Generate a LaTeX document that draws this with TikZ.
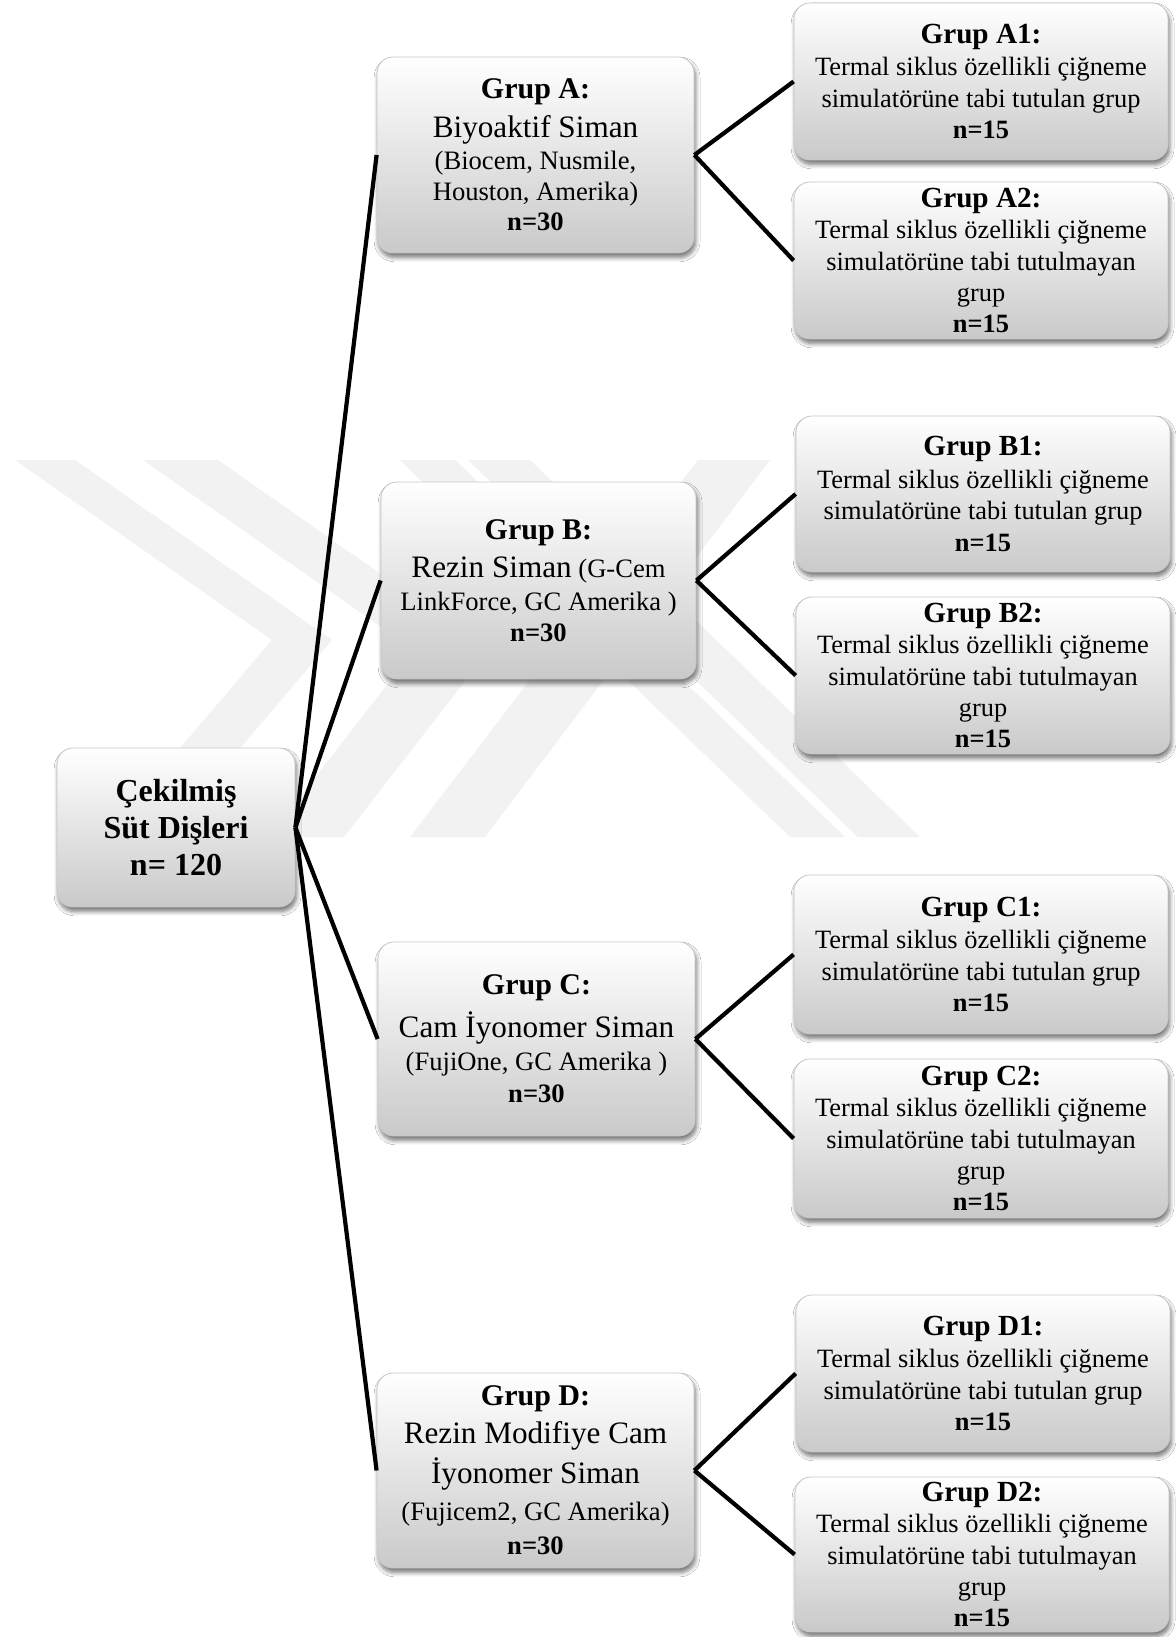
\documentclass[tikz,border=0pt]{standalone}
\usepackage{fontspec}
\setmainfont{Liberation Serif}
\usetikzlibrary{shadows,shadows.blur}
\tikzset{
  box/.style 2 args={draw=black!22, line width=0.4pt, rounded corners=8pt,
    top color=white, bottom color=black!21,
    blur shadow={shadow xshift=0.8pt, shadow yshift=-2.2pt, shadow blur steps=6, shadow blur radius=2.2pt, shadow opacity=55},
    align=center, inner sep=0pt,
    minimum width=#1*0.5pt, minimum height=#2*0.5pt},
  rootbox/.style={font=\fontsize{16}{18.4}\selectfont\bfseries},
  grpbox/.style={font=\fontsize{13.3}{15.2}\selectfont},
  leafbox/.style={font=\fontsize{13.2}{15.7}\selectfont},
  conn/.style={line width=2.1pt, black},
  wm/.style={fill=black!5, draw=none}
}
\newcommand{\gtitle}[1]{{\fontsize{15}{15}\selectfont\bfseries #1}}
\newcommand{\gbig}[1]{{\fontsize{15.6}{15}\selectfont #1}}
\newcommand{\ltitle}[1]{{\fontsize{14.6}{15}\selectfont\bfseries #1}}
\begin{document}
\begin{tikzpicture}[x=0.5pt, y=-0.5pt]
\useasboundingbox (0,0) rectangle (1176,1637);
\fill[white] (0,0) rectangle (1176,1637);
% watermark
\fill[wm] (15,460) -- (75,460) -- (332,640) -- (230,760) -- (170,760) -- (272,640) -- cycle;
\fill[wm] (143,460) -- (218,460) -- (489,650) -- (344,837) -- (269,837) -- (414,650) -- cycle;
\fill[wm] (410,837) -- (485,837) -- (770,460) -- (698,460) -- cycle;
\fill[wm] (400,460) -- (455,460) -- (845,837) -- (790,837) -- cycle;
\fill[wm] (468,460) -- (530,460) -- (920,837) -- (858,837) -- cycle;
% nodes
\node[box={238}{159}, rootbox] (root) at (176,827.5) {Çekilmiş\\Süt Dişleri\\n= 120};
\node[box={317}{196}, grpbox] (A) at (535.5,155) {\gtitle{Grup A:}\\[4.3pt]\gbig{Biyoaktif Siman}\\[0.8pt](Biocem, Nusmile,\\Houston, Amerika)\\\textbf{n=30}};
\node[box={315}{197}, grpbox] (B) at (538.5,580.5) {\gtitle{Grup B:}\\[4.1pt]\gbig{Rezin Siman} (G-Cem\\[1pt]LinkForce, GC Amerika )\\[0.5pt]\textbf{n=30}};
\node[box={317}{194}, grpbox] (C) at (536.5,1039) {\gtitle{Grup C:}\\[4.1pt]\gbig{Cam İyonomer Siman}\\[1.5pt](FujiOne, GC Amerika )\\[1pt]\textbf{n=30}};
\node[box={317}{195}, grpbox] (D) at (535.5,1470.5) {\gtitle{Grup D:}\\[3.6pt]\gbig{Rezin Modifiye Cam}\\[3.1pt]\gbig{İyonomer Siman}\\[3.1pt](Fujicem2, GC Amerika)\\[2pt]\textbf{n=30}};
\node[box={374}{157}, leafbox] (A1) at (981,81.5) {\ltitle{Grup A1:}\\[0.5pt]Termal siklus özellikli çiğneme\\simulatörüne tabi tutulan grup\\\textbf{n=15}};
\node[box={374}{157}, leafbox] (A2) at (981,260.5) {\ltitle{Grup A2:}\\Termal siklus özellikli çiğneme\\simulatörüne tabi tutulmayan\\grup\\\textbf{n=15}};
\node[box={374}{156}, leafbox] (B1) at (983,494) {\ltitle{Grup B1:}\\[0.5pt]Termal siklus özellikli çiğneme\\simulatörüne tabi tutulan grup\\\textbf{n=15}};
\node[box={374}{157}, leafbox] (B2) at (983,675.5) {\ltitle{Grup B2:}\\Termal siklus özellikli çiğneme\\simulatörüne tabi tutulmayan\\grup\\\textbf{n=15}};
\node[box={374}{159}, leafbox] (C1) at (981,954.5) {\ltitle{Grup C1:}\\[0.5pt]Termal siklus özellikli çiğneme\\simulatörüne tabi tutulan grup\\\textbf{n=15}};
\node[box={374}{159}, leafbox] (C2) at (981,1138.5) {\ltitle{Grup C2:}\\Termal siklus özellikli çiğneme\\simulatörüne tabi tutulmayan\\grup\\\textbf{n=15}};
\node[box={374}{157}, leafbox] (D1) at (983,1373.5) {\ltitle{Grup D1:}\\[0.5pt]Termal siklus özellikli çiğneme\\simulatörüne tabi tutulan grup\\\textbf{n=15}};
\node[box={374}{155}, leafbox] (D2) at (982,1554.5) {\ltitle{Grup D2:}\\Termal siklus özellikli çiğneme\\simulatörüne tabi tutulmayan\\grup\\\textbf{n=15}};
% connectors
\foreach \g in {A,B,C,D} {
  \draw[conn] (root.east) -- (\g.west);
  \draw[conn] (\g.east) -- (\g1.west);
  \draw[conn] (\g.east) -- (\g2.west);
}
\end{tikzpicture}
\end{document}
